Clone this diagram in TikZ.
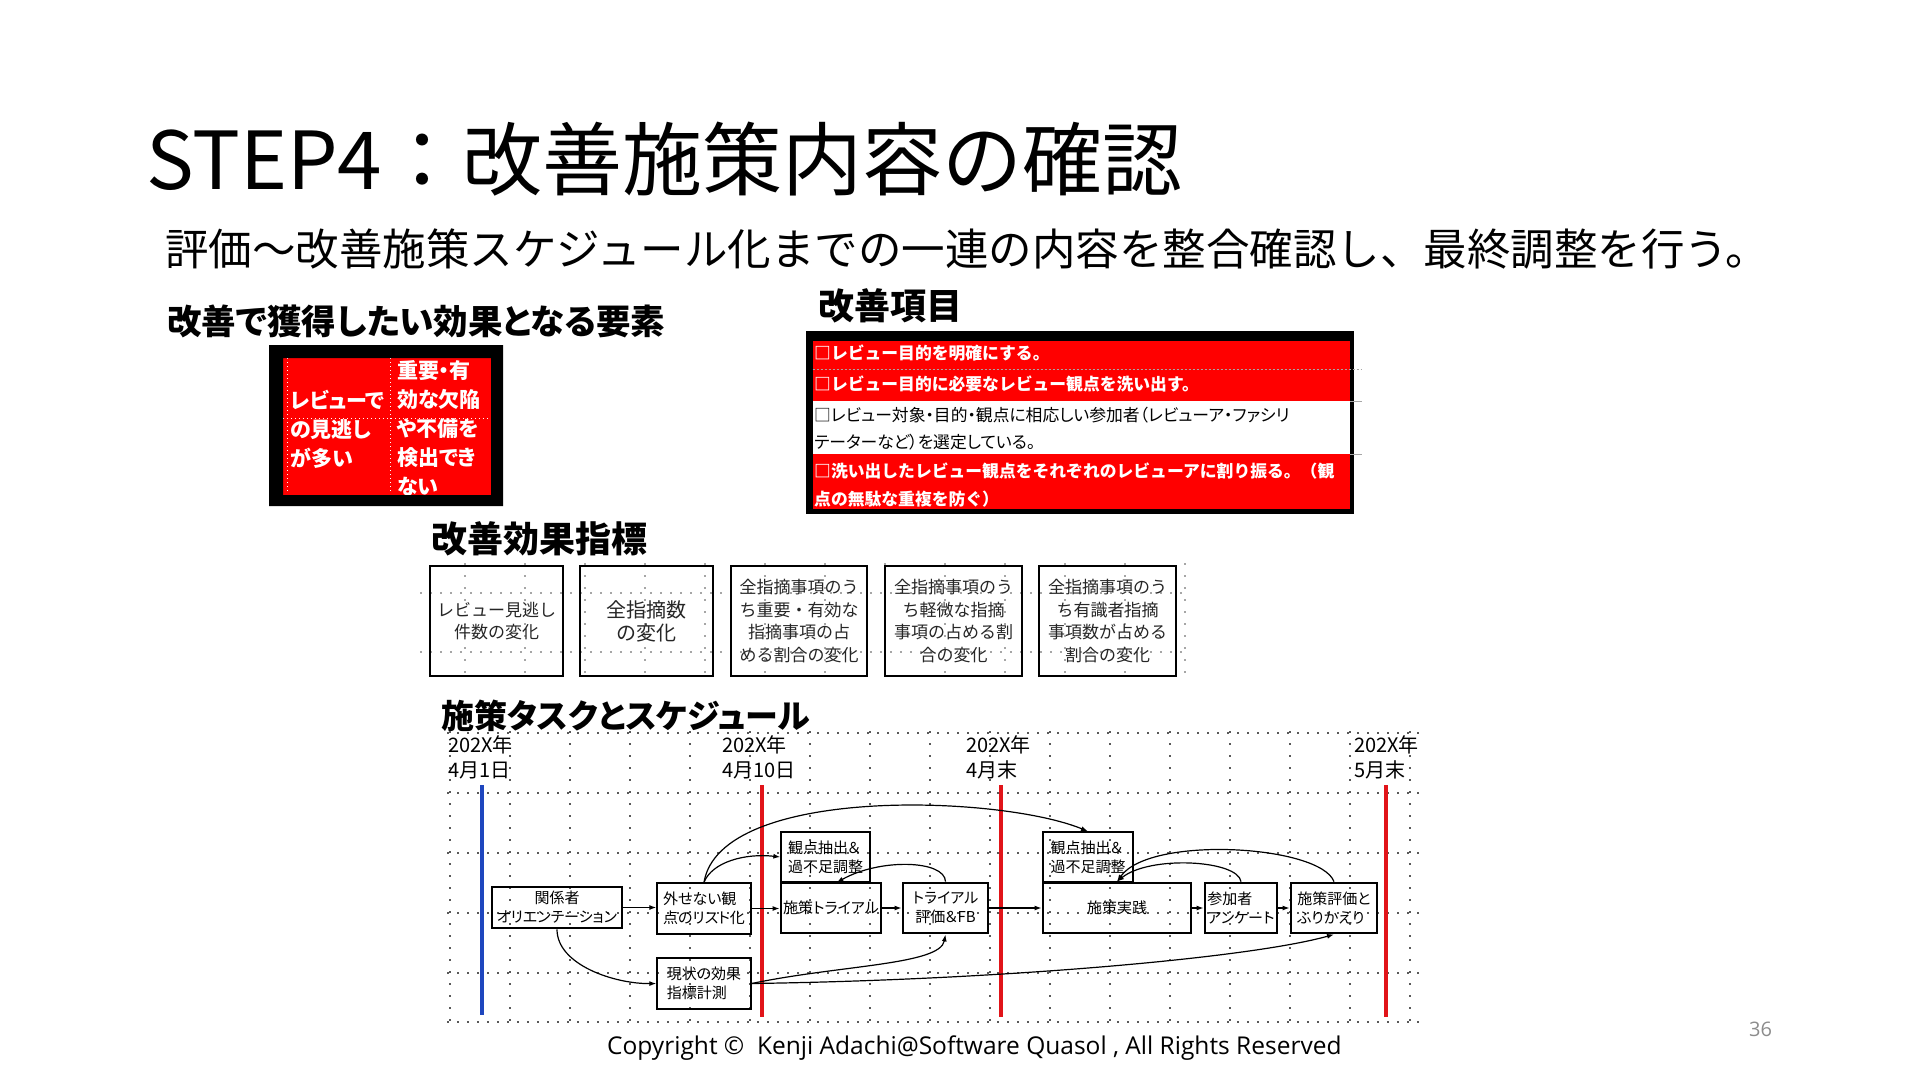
\documentclass[tikz,border=0pt]{standalone}
\usepackage{fontspec}
\setmainfont{Noto Sans CJK JP}
\newfontfamily\jpp[RawFeature=+palt]{Noto Sans CJK JP}
\newfontfamily\footfont{Open Sans}
\usetikzlibrary{arrows.meta,calc}
\newcommand\fsz[2]{\fontsize{#1}{#2}\selectfont}
\definecolor{lblue}{RGB}{30,70,190}
\definecolor{lred}{RGB}{225,20,25}
\begin{document}
\begin{tikzpicture}[x=1pt,y=-1pt,
  txt/.style={inner sep=0pt, anchor=west},
  head/.style={txt, font=\jpp\bfseries\fsz{36}{42}},
  ind/.style={draw, line width=1.3pt, inner sep=0pt, align=center, font=\fsz{17}{22.5}, text=black!85},
  sbox/.style={draw, line width=1.3pt, inner sep=0pt, font=\jpp\fsz{15}{19}},
  tbox/.style={sbox, line width=2.8pt},
  conn/.style={line width=1.2pt, -{Latex[length=7pt,width=5pt]}},
  vdots/.style={black!65, line width=1.5pt, dash pattern=on 1.5pt off 10.5pt},
  hdots/.style={black!65, line width=1.5pt, dash pattern=on 1.5pt off 8.5pt},
  datelab/.style={txt, align=left, font=\fsz{20}{25}},
  rowtxt/.style={txt, font=\bfseries\fsz{16.8}{20}, text=white},
]
\fill[white] (0,0) rectangle (1920,1080);
\useasboundingbox (0,0) rectangle (1920,1080);

% titles
\node[txt, font=\fsz{80}{96}] (title) at (146,159) {STEP4：改善施策内容の確認};
\node[txt, font=\fsz{43.5}{50}] (sub) at (165,249) {評価～改善施策スケジュール化までの一連の内容を整合確認し、最終調整を行う。};
\node[head, font=\jpp\bfseries\fsz{34.5}{42}] (h1) at (167,321) {改善で獲得したい効果となる要素};
\node[head] (h2) at (818,306) {改善項目};
\node[head] (h3) at (431,539) {改善効果指標};
\node[head, font=\jpp\bfseries\fsz{33}{40}] (h4) at (441,716) {施策タスクとスケジュール};

% left red box
\fill[red] (283,358) rectangle (491,495);
\draw[white, line width=1pt, dash pattern=on 1pt off 3pt] (287,358) -- (287,493);
\draw[white, line width=1pt, dash pattern=on 1pt off 3pt] (390,358) -- (390,493);
\draw[white, line width=1pt, dash pattern=on 1pt off 3pt] (283,418) -- (491,418);
\node[txt, align=left, font=\jpp\bfseries\fsz{21}{29}, text=white] (e1) at (290,429) {レビューで\\の見逃し\\が多い};
\node[txt, align=left, font=\jpp\bfseries\fsz{21}{29}, text=white] (e2) at (397,428) {重要・有\\効な欠陥\\や不備を\\検出でき\\ない};
\fill[black, even odd rule] (269,345) rectangle (503,506) (283,358) rectangle (491,495);

% right item box
\fill[black] (806,331) rectangle (1354,514);
\fill[red] (812.5,341) rectangle (1350,369);
\fill[red] (812.5,369) rectangle (1350,401);
\fill[white] (812.5,401) rectangle (1350,454);
\fill[red] (812.5,454) rectangle (1350,509);
\draw[black!35, line width=1pt, dash pattern=on 2pt off 2pt] (812.5,369) -- (1362,369);
\draw[black!35, line width=1pt] (1350,401) -- (1362,401);
\draw[black!35, line width=1pt] (1350,454) -- (1362,454);
\node[rowtxt] (r1) at (814,353) {□レビュー目的を明確にする。};
\node[rowtxt] (r2) at (814,384) {□レビュー目的に必要なレビュー観点を洗い出す。};
\node[txt, font=\jpp\fsz{16.8}{20}] (r3a) at (814,415) {□レビュー対象・目的・観点に相応しい参加者（レビューア・ファシリ};
\node[txt, font=\jpp\fsz{16.8}{20}] (r3b) at (814,442) {テーターなど）を選定している。};
\node[rowtxt] (r4a) at (814,471) {□洗い出したレビュー観点をそれぞれのレビューアに割り振る。（観};
\node[rowtxt] (r4b) at (814,499) {点の無駄な重複を防ぐ）};

% indicator grid
\foreach \x in {465,525,...,1185} \draw[vdots, black!35] (\x,563) -- (\x,680);
\foreach \y in {593,652} \draw[hdots, black!35] (420,\y) -- (1185,\y);

% indicator boxes
\node[ind, minimum width=133pt, minimum height=110pt] (i1) at (496.5,621) {レビュー見逃し\\件数の変化};
\node[ind, minimum width=133pt, minimum height=110pt, font=\fsz{20}{23}] (i2) at (646.5,621) {全指摘数\\の変化};
\node[ind, minimum width=136pt, minimum height=110pt] (i3) at (799,621) {全指摘事項のう\\ち重要・有効な\\指摘事項の占\\める割合の変化};
\node[ind, minimum width=137pt, minimum height=110pt] (i4) at (953.5,621) {全指摘事項のう\\ち軽微な指摘\\事項の占める割\\合の変化};
\node[ind, minimum width=137pt, minimum height=110pt] (i5) at (1107.5,621) {全指摘事項のう\\ち有識者指摘\\事項数が占める\\割合の変化};

% schedule grid
\foreach \x in {450,510,...,1410} \draw[vdots] (\x,731) -- (\x,1022);
\foreach \y in {733,793,853,913,973,1022} \draw[hdots] (447,\y) -- (1420,\y);

% dates
\node[datelab] (d1) at (448,757.5) {202X年\\4月1日};
\node[datelab] (d2) at (722,757.5) {202X年\\4月10日};
\node[datelab] (d3) at (966,757.5) {202X年\\4月末};
\node[datelab] (d4) at (1354,757.5) {202X年\\5月末};
\draw[lblue, line width=4pt] (482,785) -- (482,1015);
\draw[lred, line width=4pt] (762,785) -- (762,1017);
\draw[lred, line width=4pt] (1001,785) -- (1001,1017);
\draw[lred, line width=4pt] (1386,785) -- (1386,1017);

% schedule boxes
\node[tbox, minimum width=130pt, minimum height=41pt, align=center] (ori) at (557,907.5) {関係者\\オリエンテーション};
\node[sbox, minimum width=94pt, minimum height=51pt, align=left] (ext) at (704,908.5) {外せない観\\点のリスト化};
\node[sbox, minimum width=94pt, minimum height=51pt, align=left] (now) at (704,983.5) {現状の効果\\指標計測};
\node[sbox, minimum width=89pt, minimum height=50pt, align=left] (kp1) at (825.5,857) {観点抽出＆\\過不足調整};
\node[tbox, minimum width=100pt, minimum height=50pt] (tri) at (831,908) {施策トライアル};
\node[tbox, minimum width=85pt, minimum height=50pt, align=center] (fb) at (945.5,908) {トライアル\\評価＆FB};
\node[sbox, minimum width=90pt, minimum height=50pt, align=left] (kp2) at (1088,857) {観点抽出＆\\過不足調整};
\node[tbox, minimum width=148pt, minimum height=50pt] (impl) at (1117,908) {施策実践};
\node[tbox, minimum width=72pt, minimum height=50pt, align=left] (par) at (1241,908) {参加者\\アンケート};
\node[tbox, minimum width=86pt, minimum height=50pt, align=left] (eval) at (1334,908) {施策評価と\\ふりかえり};

% connectors
\draw[conn] (ori.east) -- (ori.east -| ext.west);
\draw[conn] (ext.east) -- (ext.east -| tri.west);
\draw[conn] (tri.east) -- (tri.east -| fb.west);
\draw[conn] (fb.east) -- (fb.east -| impl.west);
\draw[conn] (impl.east) -- (impl.east -| par.west);
\draw[conn] (par.east) -- (par.east -| eval.west);
\draw[conn] (ori.south) .. controls (557,965) and (615,984) .. (now.west);
\draw[conn] (ext.north) .. controls (712,862) and (745,853) .. (kp1.west);
\draw[conn] (ext.north) .. controls (720,785) and (1000,795) .. (kp2.north);
\draw[conn] (fb.north) .. controls (945,860) and (880,858) .. ($(kp1.south)+(11,0)$);
\draw[conn] (now.east) .. controls (840,965) and (940,965) .. (fb.south);
\draw[conn] (now.east) .. controls (1000,980) and (1250,958) .. (eval.south);
\draw[conn] (par.north) .. controls (1238,860) and (1150,855) .. (impl.north);
\draw[conn] (eval.north) .. controls (1320,845) and (1150,835) .. (impl.north);

% footer
\node[txt, font=\footfont\fsz{24.5}{28}] (copy) at (607,1048) {Copyright ©\ \ Kenji Adachi@Software Quasol , All Rights Reserved};
\node[txt, font=\footfont\fsz{20}{24}, text=black!45] (pg) at (1749,1029) {36};
\end{tikzpicture}
\end{document}
